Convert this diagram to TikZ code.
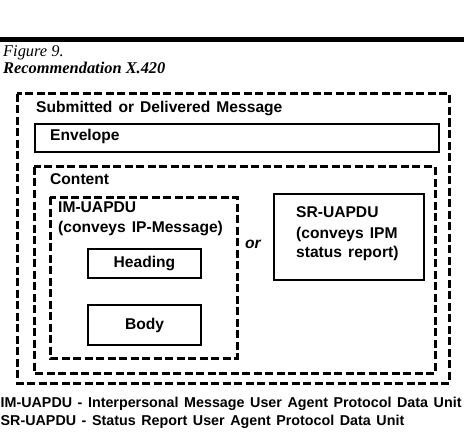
\documentclass[tikz,border=0pt]{standalone}
\usepackage{fontspec}
\setmainfont{Liberation Serif}
\newfontfamily\boxfont{Liberation Sans}[WordSpace=1.4]
\usepackage{tikz}
\usetikzlibrary{positioning}

\begin{document}
\begin{tikzpicture}[x=1pt, y=-1pt,
    dashbox/.style={line width=3pt, dash pattern=on 8pt off 3.5pt},
    solidbox/.style={draw, line width=1.6pt, inner sep=0pt,
      font=\boxfont\bfseries\fontsize{15.6}{18}\selectfont},
    lbl/.style={anchor=base west, inner sep=0pt,
      font=\boxfont\bfseries\fontsize{15.6}{18}\selectfont}
]
  \useasboundingbox (0,0) rectangle (464,436);

  % Kopf mit Linie und Titel
  \draw[line width=4.5pt] (0,39.5) -- (464,39.5);
  \node[anchor=base west, inner sep=0pt, font=\itshape\fontsize{16.4}{18}\selectfont]
    (fig) at (3,56.5) {Figure 9.};
  \node[anchor=base west, inner sep=0pt, font=\bfseries\itshape\fontsize{16.4}{18}\selectfont]
    (rec) at (3,74) {Recommendation X.420};

  % Gestrichelte Rahmen
  \draw[dashbox] (17,94) rectangle (449,383);
  \draw[dashbox] (34,167) rectangle (435,373);
  \draw[dashbox] (50,197) rectangle (237,358);

  % Nachricht und Umschlag
  \node[lbl] (msg) at (36,113) {Submitted or Delivered Message};
  \node[solidbox, minimum width=404, minimum height=28, anchor=north west] (env) at (34,123) {};
  \node[lbl] (envtxt) at (50,141) {Envelope};

  % Inhalt
  \node[lbl] (content) at (50,184) {Content};
  \node[lbl] (im) at (58,212.5) {IM-UAPDU};
  \node[lbl] (imconv) at (58,233) {(conveys IP-Message)};
  \node[solidbox, minimum width=113, minimum height=29] (heading) at (144.5,263.5) {Heading};
  \node[solidbox, minimum width=113, minimum height=40] (body) at (144.5,325) {Body};

  % Alternative
  \node[lbl, font=\boxfont\bfseries\itshape\fontsize{15.6}{18}\selectfont] (or) at (245,248) {or};
  \node[solidbox, minimum width=150, minimum height=86, anchor=north west] (sr) at (273,193) {};
  \node[lbl] (sr1) at (296,217) {SR-UAPDU};
  \node[lbl] (sr2) at (296,238.5) {(conveys IPM};
  \node[lbl] (sr3) at (296,258) {status report)};

  % Legende
  \node[lbl, font=\boxfont\bfseries\fontsize{14.3}{18}\selectfont] (leg1) at (0.5,407)
    {IM-UAPDU - Interpersonal Message User Agent Protocol Data Unit};
  \node[lbl, font=\boxfont\bfseries\fontsize{14.3}{18}\selectfont] (leg2) at (0.5,425)
    {SR-UAPDU - Status Report User Agent Protocol Data Unit};

\end{tikzpicture}
\end{document}
